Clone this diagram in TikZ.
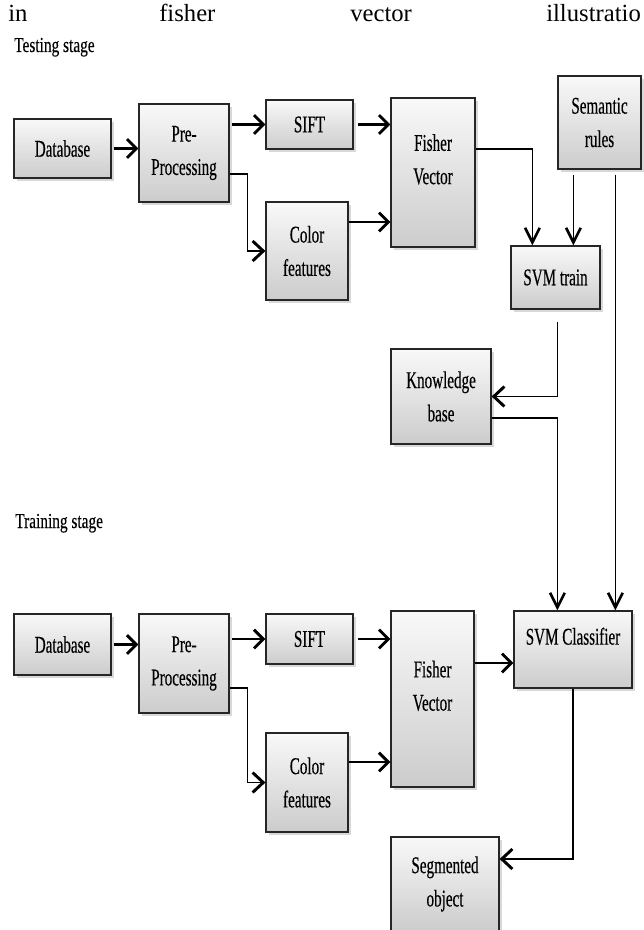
\documentclass[tikz,border=0pt]{standalone}
\usepackage{fontspec}
\setmainfont{Liberation Serif}
\newfontfamily\boxserif{Liberation Serif}[FakeStretch=0.63, FakeBold=0.3]
\newfontfamily\stageserif{Liberation Serif}[FakeStretch=0.72, FakeBold=0.2]
\usetikzlibrary{arrows.meta,calc,shadows}

\tikzset{
  box/.style={draw=black!85, line width=0.9pt, top color=gray!5, bottom color=gray!40,
    drop shadow={shadow xshift=2pt, shadow yshift=-2.5pt, opacity=0.3},
    align=center, inner sep=2pt, font=\boxserif\fontsize{18}{25}\selectfont},
  boxsize/.style 2 args={minimum width=#1*0.75pt, minimum height=#2*0.75pt},
  raised/.style={text depth=20pt},
  link/.style={line width=2pt, -{Straight Barb[length=7pt 0 0, width=14pt 0 0, line width=2.2pt 0 0]}},
  wire/.style={line width=1.2pt, -{Straight Barb[length=8pt 0 0, width=15pt 0 0, line width=2.2pt 0 0]}},
  drop/.style={line width=1.3pt, -{Straight Barb[length=11pt 0 0, width=11pt 0 0, line width=2pt 0 0]}},
  stage/.style={anchor=base west, inner sep=0pt, font=\stageserif\fontsize{16}{19}\selectfont},
  word/.style={anchor=base west, inner sep=0pt, font=\fontsize{18.5}{22}\selectfont}
}

\begin{document}
\begin{tikzpicture}[x=0.75pt, y=-0.75pt]
    \path[use as bounding box, fill=white] (0,0) rectangle (643,930);

    \foreach \x/\w [count=\i] in {8/in, 159/fisher, 350/vector, 546/illustratio} {
      \node[word] (w\i) at (\x,22) {\w};
    }

    % testing stage
    \node[stage] (testlbl) at (14,52) {Testing stage};
    \node[box, boxsize={97}{59}] (dbA) at (62.5,148.5) {Database};
    \node[box, boxsize={90}{98}] (preA) at (184,153) {Pre-\\Processing};
    \node[box, boxsize={87}{49}] (siftA) at (309.5,124.5) {SIFT};
    \node[box, boxsize={82}{98}] (colA) at (307,251) {Color\\features};
    \node[box, raised, boxsize={84}{149}] (fishA) at (433,172.5) {Fisher\\Vector};
    \node[box, boxsize={83}{93}] (sem) at (599.5,122.5) {Semantic\\rules};
    \node[box, boxsize={89}{63}] (svmT) at (555.5,277.5) {SVM train};
    \node[box, boxsize={100}{95}] (kb) at (441,396.5) {Knowledge\\base};

    \draw[link, shorten <=2pt] (dbA.east) -- (dbA.east -| preA.west);
    \draw[link, shorten <=2pt] (preA.east |- siftA) -- (siftA.west);
    \draw[link, shorten <=3pt] (siftA.east) -- (siftA.east -| fishA.west);
    \draw[wire] ($(preA.east)+(0,21)$) -- ++(18,0) |- (colA.west);
    \coordinate (colAout) at ($(colA.east)+(0,-29)$);
    \draw[link] (colAout) -- (colAout -| fishA.west);
    \draw[drop] ($(fishA.east)+(0,-23.5)$) -| ($(svmT.north west)+(22,0)$);
    \coordinate (semL) at ($(sem.south west)+(16,5)$);
    \coordinate (semR) at ($(sem.south west)+(58,5)$);
    \draw[drop] (semL) -- (semL |- svmT.north);
    \draw[wire] ($(svmT.south west)+(47,12)$) |- (kb.east);

    % training stage
    \node[stage] (trainlbl) at (15,528) {Training stage};
    \node[box, boxsize={97}{61}] (dbB) at (62.5,644.5) {Database};
    \node[box, boxsize={90}{99}] (preB) at (184,663.5) {Pre-\\Processing};
    \node[box, boxsize={87}{50}] (siftB) at (309.5,639) {SIFT};
    \node[box, boxsize={82}{99}] (colB) at (307,782.5) {Color\\features};
    \node[box, raised, boxsize={83}{176}] (fishB) at (432.5,699) {Fisher\\Vector};
    \node[box, raised, boxsize={118}{77}] (svmC) at (573,649.5) {SVM Classifier};
    \node[box, boxsize={108}{94}] (segB) at (445,884) {Segmented\\object};

    \draw[drop] ($(kb.east)+(0,21.5)$) -| ($(svmC.north west)+(44,0)$);
    \draw[drop] (semR) -- (semR |- svmC.north);
    \draw[link, shorten <=2pt] (dbB.east) -- (dbB.east -| preB.west);
    \draw[link, shorten <=2pt] (preB.east |- siftB) -- (siftB.west);
    \draw[link, shorten <=3pt] (siftB.east) -- (siftB.east -| fishB.west);
    \draw[wire] ($(preB.east)+(0,24.5)$) -- ++(18,0) |- (colB.west);
    \coordinate (colBout) at ($(colB.east)+(0,-20.5)$);
    \draw[link] (colBout) -- (colBout -| fishB.west);
    \coordinate (fishBout) at ($(fishB.east)+(0,-36)$);
    \draw[link] (fishBout) -- (fishBout -| svmC.west);
    \draw[wire] (svmC.south) |- ($(segB.east)+(0,-25)$);
\end{tikzpicture}
\end{document}
